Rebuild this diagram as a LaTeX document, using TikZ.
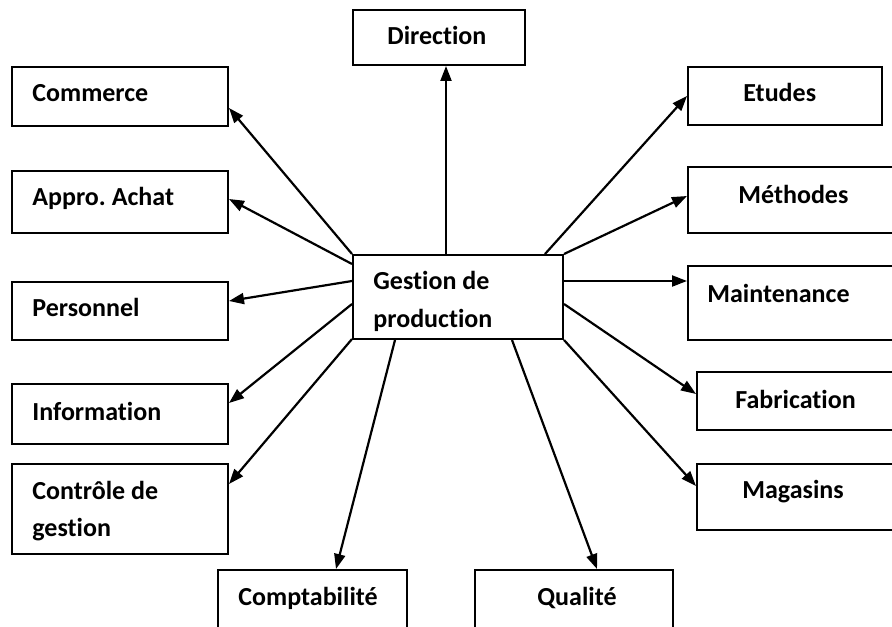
\documentclass[tikz,border=0pt]{standalone}
\usepackage{fontspec}
\setmainfont[Ligatures=NoCommon]{Carlito}
\usetikzlibrary{arrows.meta,calc}

\begin{document}
\frenchspacing
\begin{tikzpicture}[
  x=0.5pt, y=-0.5pt,
  box/.style={draw, line width=1pt, inner sep=0pt},
  lbl/.style={anchor=base west, inner sep=0pt, font=\bfseries\fontsize{13}{15.6}\selectfont},
  link/.style={line width=1.1pt, -{Triangle[length=7.5pt,width=5.5pt]}}
]
\clip (0,0) rectangle (892,626);

% boxes (sizes in the picture's half-point units)
\node[box, minimum width=105pt, minimum height=42pt]   (g)   at (458,297)   {};
\node[box, minimum width=86pt,  minimum height=27.5pt] (dir) at (439,37.5)  {};
\node[box, minimum width=108pt, minimum height=29.5pt] (com) at (120,96.5)  {};
\node[box, minimum width=108pt, minimum height=31pt]   (app) at (120,202)   {};
\node[box, minimum width=108pt, minimum height=29pt]   (per) at (120,311)   {};
\node[box, minimum width=108pt, minimum height=30pt]   (inf) at (120,414)   {};
\node[box, minimum width=108pt, minimum height=45pt]   (ctl) at (120,509)   {};
\node[box, minimum width=97pt,  minimum height=29pt]   (etu) at (785,96)    {};
\node[box, minimum width=103.5pt, minimum height=33pt] (met) at (791.5,200) {};
\node[box, minimum width=103.5pt, minimum height=37pt] (mai) at (791.5,303) {};
\node[box, minimum width=99pt,  minimum height=29pt]   (fab) at (796,401)   {};
\node[box, minimum width=99pt,  minimum height=33pt]   (mag) at (796,497)   {};
\node[box, minimum width=94.5pt, minimum height=35pt]  (cpt) at (312.5,605) {};
\node[box, minimum width=99pt,  minimum height=35pt]   (qua) at (574,605)   {};

% labels
\node[lbl] (tg1) at (373,289) {Gestion de};
\node[lbl] (tg2) at (373,327) {production};
\node[lbl] (tdir) at (387,45)  {Direction};
\node[lbl] (tcom) at (32,101)  {Commerce};
\node[lbl] (tapp) at (32,205)  {Appro. Achat};
\node[lbl] (tper) at (32,316)  {Personnel};
\node[lbl] (tinf) at (32,420)  {Information};
\node[lbl] (tct1) at (32,499)  {Contrôle de};
\node[lbl] (tct2) at (32,536)  {gestion};
\node[lbl] (tetu) at (743,102) {Etudes};
\node[lbl] (tmet) at (738,203) {Méthodes};
\node[lbl] (tmai) at (707,302) {Maintenance};
\node[lbl] (tfab) at (735,408) {Fabrication};
\node[lbl] (tmag) at (742,498) {Magasins};
\node[lbl] (tcpt) at (238,605) {Comptabilité};
\node[lbl] (tqua) at (537,605) {Qualité};

% connectors from the central box
\draw[link] ($(g.north west)+(94,0)$)  -- ($(dir.south west)+(94,0)$);
\draw[link] (g.north west)             -- ($(com.south east)+(0,-19)$);
\draw[link] ($(g.north west)+(0,10)$)  -- ($(app.south east)+(0,-35)$);
\draw[link] ($(g.north west)+(0,27)$)  -- ($(per.north east)+(0,20)$);
\draw[link] ($(g.north west)+(0,50)$)  -- ($(inf.north east)+(0,20)$);
\draw[link] ($(g.south west)+(0,-1)$)  -- ($(ctl.north east)+(0,21)$);
\draw[link] ($(g.south west)+(43,0)$)  -- ($(cpt.north west)+(119,0)$);
\draw[link] ($(g.south west)+(160,0)$) -- ($(qua.north west)+(123,0)$);
\draw[link] (g.south east)             -- ($(mag.north west)+(0,23)$);
\draw[link] ($(g.south east)+(0,-36)$) -- ($(fab.north west)+(0,23)$);
\draw[link] ($(g.north east)+(0,27)$)  -- ($(mai.north west)+(0,16)$);
\draw[link] (g.north east)             -- ($(met.north west)+(0,30)$);
\draw[link] ($(g.north west)+(193,0)$) -- ($(etu.north west)+(0,30)$);
\end{tikzpicture}
\end{document}
